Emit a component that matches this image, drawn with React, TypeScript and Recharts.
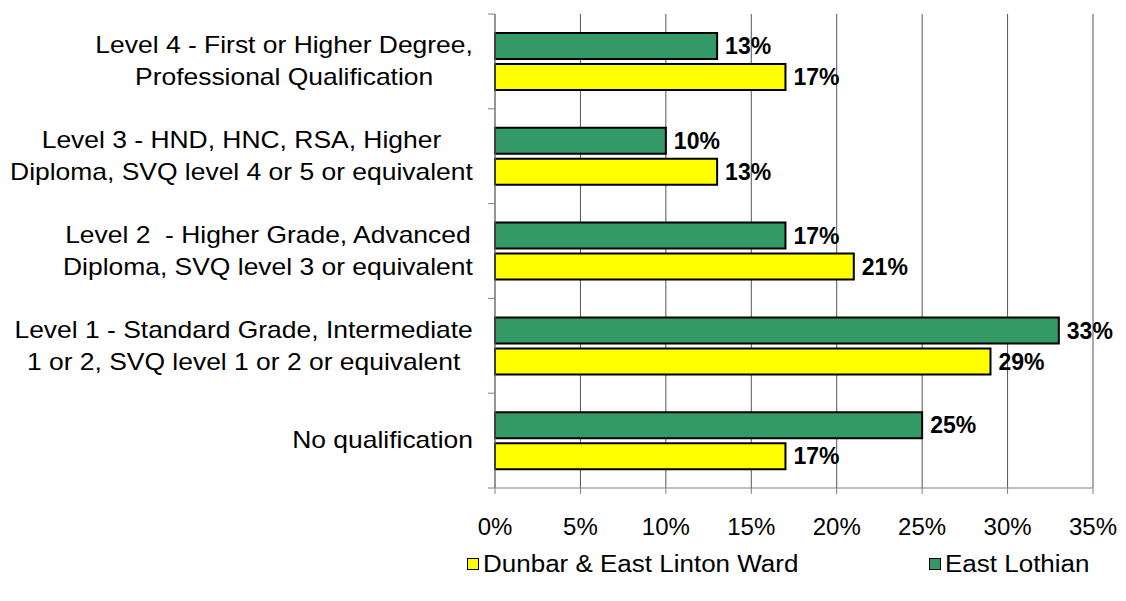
import React from "react";
import { BarChart, Bar, XAxis, YAxis, CartesianGrid, LabelList, Legend } from "recharts";

const categories = [
  "Level 4 - First or Higher Degree,|Professional Qualification",
  "Level 3 - HND, HNC, RSA, Higher|Diploma, SVQ level 4 or 5 or equivalent",
  "Level 2  - Higher Grade, Advanced|Diploma, SVQ level 3 or equivalent",
  "Level 1 - Standard Grade, Intermediate|1 or 2, SVQ level 1 or 2 or equivalent",
  "No qualification",
];
const eastLothian = [13, 10, 17, 33, 25];
const dunbar = [17, 13, 21, 29, 17];
const xTicks = [0, 5, 10, 15, 20, 25, 30, 35];
const seriesNames = { dunbar: "Dunbar & East Linton Ward", eastLothian: "East Lothian" };

const data = categories.map((c, i) => ({ cat: c, eastLothian: eastLothian[i], dunbar: dunbar[i] }));

const FONT = "'Liberation Sans', Arial, sans-serif";
const W = 1110;
const H = 585;
const Y_AXIS_W = 487;
const MARGIN = { top: 6, right: 25, left: 0, bottom: 14 };
const LEGEND_H = 30;
const X_AXIS_H = 61;
const PLOT_H = H - MARGIN.top - MARGIN.bottom - LEGEND_H - X_AXIS_H;
const CAT_FONT = 23;
const CAT_SX = 1.15;
const LINE_GAP = 32;
const LABEL_RIGHT_GAP = 22;

let ctx: CanvasRenderingContext2D | null = null;
function measure(text: string, size: number) {
  if (!ctx) {
    const c = document.createElement("canvas");
    ctx = c.getContext("2d");
  }
  if (!ctx) return text.length * size * 0.5;
  ctx.font = `${size}px ${FONT}`;
  return ctx.measureText(text).width;
}

const CatTick = (props: any) => {
  const { y, payload, index } = props;
  const lines: string[] = String(payload.value).split("|");
  const maxW = Math.max(...lines.map((l) => measure(l, CAT_FONT))) * CAT_SX;
  const right = Y_AXIS_W - LABEL_RIGHT_GAP;
  const cx = right - maxW / 2;
  const half = PLOT_H / categories.length / 2;
  const n = lines.length;
  return (
    <g>
      <line x1={Y_AXIS_W - 7} x2={Y_AXIS_W} y1={y - half} y2={y - half} stroke="#808080" strokeWidth={1} />
      {index === categories.length - 1 && (
        <line x1={Y_AXIS_W - 7} x2={Y_AXIS_W} y1={y + half} y2={y + half} stroke="#808080" strokeWidth={1} />
      )}
      {lines.map((l, i) => (
        <text
          key={i}
          transform={`translate(${cx},${y + (i - (n - 1) / 2) * LINE_GAP}) scale(${CAT_SX},1)`}
          x={0}
          y={0}
          textAnchor="middle"
          dominantBaseline="central"
          fontSize={CAT_FONT}
          fontFamily={FONT}
          fill="#000"
          style={{ whiteSpace: "pre" }}
        >
          {l}
        </text>
      ))}
    </g>
  );
};

const LegendContent = () => (
  <div style={{ position: "relative", width: W, height: LEGEND_H, fontFamily: FONT, fontSize: 23, color: "#000" }}>
    {[
      { name: seriesNames.dunbar, color: "#FFFF00", left: 459 },
      { name: seriesNames.eastLothian, color: "#339966", left: 921 },
    ].map((it) => (
      <div
        key={it.name}
        style={{ position: "absolute", left: it.left, top: 0, height: LEGEND_H, display: "flex", alignItems: "center", whiteSpace: "nowrap" }}
      >
        <span style={{ display: "inline-block", width: 10, height: 10, background: it.color, border: "1.5px solid #000", marginRight: 4 }} />
        <span style={{ display: "inline-block", transform: "scaleX(1.13)", transformOrigin: "left center" }}>{it.name}</span>
      </div>
    ))}
  </div>
);

export default function App() {
  return (
    <BarChart
      width={W}
      height={H}
      data={data}
      layout="vertical"
      margin={MARGIN}
      barSize={26}
      barGap={5}
    >
      <CartesianGrid horizontal={false} vertical={true} stroke="#555" strokeWidth={1} />
      <XAxis
        type="number"
        domain={[0, 35]}
        ticks={xTicks}
        interval={0}
        height={X_AXIS_H}
        tickFormatter={(v: number) => `${v}%`}
        tick={{ fontSize: 24, fill: "#000", fontFamily: FONT }}
        tickSize={6}
        tickMargin={24}
        axisLine={{ stroke: "#808080" }}
        tickLine={{ stroke: "#808080" }}
      />
      <YAxis
        type="category"
        dataKey="cat"
        width={Y_AXIS_W}
        axisLine={{ stroke: "#808080" }}
        tickLine={false}
        tick={<CatTick />}
        interval={0}
      />
      <Legend verticalAlign="bottom" height={LEGEND_H} content={<LegendContent />} />
      <Bar dataKey="eastLothian" name={seriesNames.eastLothian} fill="#339966" stroke="#000" strokeWidth={2} isAnimationActive={false}>
        <LabelList
          dataKey="eastLothian"
          position="right"
          offset={8}
          formatter={(v: any) => `${v}%`}
          style={{ fontSize: 23, fontWeight: "bold", fill: "#000", fontFamily: FONT }}
        />
      </Bar>
      <Bar dataKey="dunbar" name={seriesNames.dunbar} fill="#FFFF00" stroke="#000" strokeWidth={2} isAnimationActive={false}>
        <LabelList
          dataKey="dunbar"
          position="right"
          offset={8}
          formatter={(v: any) => `${v}%`}
          style={{ fontSize: 23, fontWeight: "bold", fill: "#000", fontFamily: FONT }}
        />
      </Bar>
    </BarChart>
  );
}
